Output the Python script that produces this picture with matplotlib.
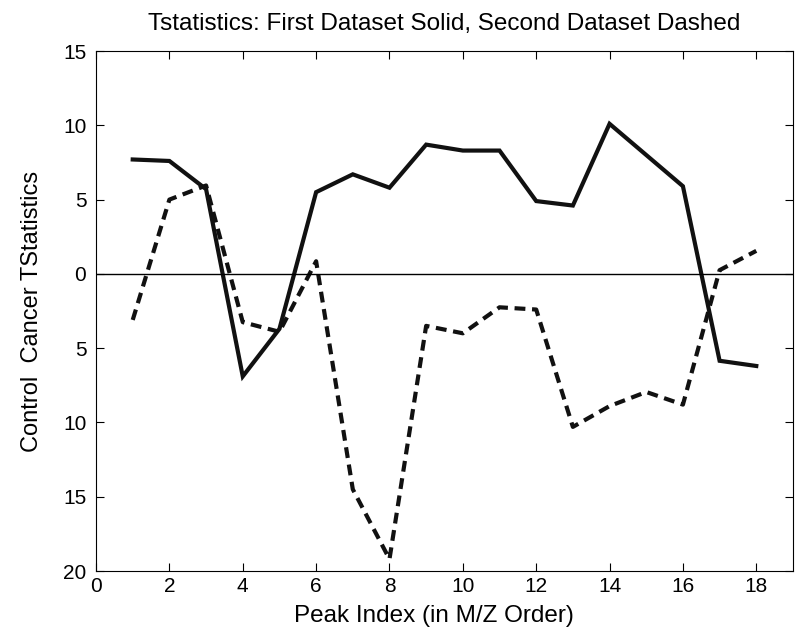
import numpy as np
import matplotlib.pyplot as plt

plt.rcParams['font.family'] = ['Liberation Sans', 'DejaVu Sans']

peak_index = np.arange(1, 19)
# t statistics per peak, first dataset
tstat_first = [7.7, 7.6, 5.7, -6.9, -3.7, 5.5, 6.7, 5.8, 8.7,
               8.3, 8.3, 4.9, 4.6, 10.1, 8.0, 5.9, -5.85, -6.2]
# t statistics per peak, second dataset
tstat_second = [-3.1, 5.0, 5.95, -3.25, -3.9, 0.85, -14.5, -19.2, -3.5,
                -4.0, -2.25, -2.4, -10.3, -8.9, -7.95, -8.8, 0.25, 1.55]

yticks = np.arange(-20, 16, 5)

fig = plt.figure(figsize=(8.03, 6.41), dpi=100)
ax = fig.add_axes([0.1196, 0.1092, 0.8679, 0.8112])

ax.plot(peak_index, tstat_first, color='#111111', lw=3.0, solid_joinstyle='miter')
ax.plot(peak_index, tstat_second, color='#111111', lw=3.0, dashes=(2.6, 1.6))
ax.axhline(0, color='black', lw=1.0)

ax.set_xlim(0, 19)
ax.set_ylim(-20, 15)
ax.set_xticks(np.arange(0, 19, 2))
ax.set_yticks(yticks)
ax.set_yticklabels([str(abs(v)) for v in yticks])

ax.tick_params(direction='in', length=6, width=0.8, top=True, right=True,
               labelsize=15, pad=4)
ax.tick_params(axis='y', pad=7)
for s in ax.spines.values():
    s.set_linewidth(0.8)

ax.set_title('Tstatistics: First Dataset Solid, Second Dataset Dashed',
             fontsize=17.5, pad=15)
ax.set_xlabel('Peak Index (in M/Z Order)', fontsize=17.5, labelpad=5)
ax.xaxis.set_label_coords(0.485, -0.065)
ax.set_ylabel('Control  Cancer TStatistics', fontsize=17, labelpad=14)

fig.savefig('out.png', dpi=100)
